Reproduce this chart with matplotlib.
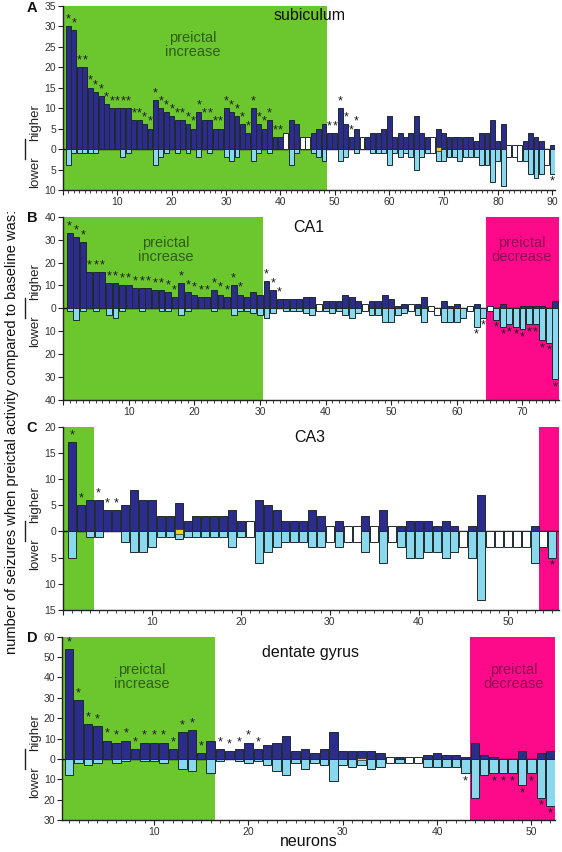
import numpy as np
import matplotlib
matplotlib.use("Agg")
import matplotlib.pyplot as plt
import matplotlib.ticker as ticker

plt.rcParams['font.family'] = ['Liberation Sans', 'DejaVu Sans']

# Colours
navy = '#2b2c8c'
light = '#8ad8ee'
edge = '#1e2a2c'
green = '#6cc72e'
magenta = '#fc0a8a'
yellow = '#f2d21a'

# ---- A: subiculum (90 neurons) ----
sub_hi = [30, 29, 20, 20, 15, 14, 13, 11, 10, 10, 10, 10, 7, 7, 6, 5, 12, 10, 9, 8,
          7, 7, 6, 5, 9, 7, 7, 5, 5, 10, 9, 8, 6, 4, 10, 6, 5, 7, 3, 3,
          0, 7, 6, 0, 0, 4, 5, 6, 4, 4, 10, 6, 3, 5, 0, 3, 4, 4, 5, 8,
          3, 4, 3, 4, 8, 4, 3, 0, 5, 4, 3, 3, 3, 3, 3, 2, 4, 4, 7, 2,
          6, 0, 0, 0, 2, 4, 3, 2, 0, 1]
sub_lo = [4, 1, 1, 1, 1, 1, 0, 0, 0, 0, 2, 1, 0, 0, 0, 0, 4, 2, 1, 0,
          1, 0, 1, 0, 2, 0, 1, 0, 0, 2, 3, 2, 0, 0, 3, 1, 0, 1, 0, 0,
          0, 4, 1, 0, 0, 1, 2, 3, 0, 0, 3, 2, 0, 1, 0, 0, 1, 1, 1, 4,
          1, 2, 1, 2, 5, 2, 1, 0, 3, 3, 2, 2, 3, 2, 2, 2, 4, 4, 8, 3,
          9, 0, 0, 0, 3, 6, 7, 6, 0, 6]
sub_same = {41: (4, 0), 44: (3, 0), 45: (3, 0), 55: (3, 0), 68: (3, -1),
            82: (1, -2), 83: (1, -2), 84: (1, -3), 89: (0, -4)}
sub_yellow = {69: (0.4, -0.4)}
sub_star_hi = list(range(1, 41)) + [49, 50, 51, 52, 53, 54]
sub_star_lo = [90]

# ---- B: CA1 (75 neurons) ----
ca1_hi = [33, 31, 29, 16, 16, 16, 11, 11, 10, 10, 9, 9, 9, 8, 8, 7, 5, 11, 7, 6,
          5, 5, 8, 6, 5, 10, 6, 5, 7, 6, 12, 8, 4, 4, 4, 4, 5, 5, 0, 3,
          3, 3, 6, 5, 3, 0, 3, 3, 6, 4, 1, 2, 0, 2, 5, 0, 0, 3, 1, 2,
          0, 0, 2, 0, 0, 0, 2, 0, 0, 1, 1, 1, 1, 0, 3]
ca1_lo = [1, 5, 1, 0, 1, 0, 3, 4, 1, 0, 0, 1, 0, 0, 1, 1, 0, 3, 1, 0,
          0, 0, 1, 0, 0, 3, 1, 1, 2, 3, 4, 2, 0, 1, 1, 1, 2, 3, 0, 1,
          2, 1, 3, 4, 2, 0, 3, 3, 6, 6, 3, 2, 0, 3, 6, 0, 0, 6, 6, 6,
          4, 0, 8, 4, 0, 5, 8, 7, 8, 9, 7, 7, 14, 15, 31]
ca1_same = {39: (2, -1), 46: (2, -1), 53: (2, -1), 56: (1, -1), 57: (0, -3),
            62: (1, -1), 65: (1, -1)}
ca1_yellow = {}
ca1_star_hi = list(range(1, 28)) + [31, 32, 33]
ca1_star_lo = [63, 64] + list(range(66, 76))

# ---- C: CA3 (55 neurons) ----
ca3_hi = [17, 5, 6, 6, 4, 4, 5, 8, 6, 6, 3, 3, 5.5, 2, 3, 3, 3, 3, 4, 2,
          0, 6, 5, 4, 2, 2, 2, 4, 3, 0, 2, 0, 0, 3, 0, 4, 0, 1, 2, 2,
          2, 1, 2, 1, 0, 1, 7, 0, 0, 0, 0, 0, 1, 0, 0]
ca3_lo = [5, 0, 1, 1, 0, 0, 2, 4, 4, 3, 1, 1, 1.5, 1, 1, 1, 1, 1, 3, 1,
          0, 6, 4, 3, 2, 2, 2, 3, 3, 0, 3, 0, 0, 4, 0, 6, 0, 3, 5, 5,
          4, 4, 5, 4, 0, 5, 13, 0, 0, 0, 0, 0, 6, 0, 5]
ca3_same = {21: (2, -1), 30: (1, -2), 32: (1, -2), 33: (1, -2), 35: (1, -2),
            37: (1, -2), 45: (0, -3), 48: (0, -3), 49: (0, -3), 50: (0, -3),
            51: (0, -3), 52: (0, -3), 54: (0, -3)}
ca3_yellow = {13: (0.5, -0.5)}
ca3_star_hi = [1, 2, 4, 5, 6]
ca3_star_lo = [55]

# ---- D: dentate gyrus (52 neurons) ----
dg_hi = [54, 29, 17, 16, 9, 8, 9, 5, 8, 8, 8, 5, 13, 14, 3, 9, 5, 4, 5, 8,
         5, 7, 8, 11, 4, 5, 3, 5, 13, 4, 4, 4, 4, 3, 0, 1, 0, 0, 2, 3,
         2, 2, 1, 8, 2, 1, 0, 0, 4, 0, 3, 4]
dg_lo = [8, 2, 3, 2, 0, 2, 1, 0, 1, 1, 2, 0, 5, 6, 0, 7, 1, 0, 1, 2,
         1, 3, 6, 8, 2, 5, 2, 3, 11, 3, 4, 3, 5, 4, 0, 2, 0, 0, 4, 4,
         4, 4, 7, 19, 8, 7, 7, 7, 13, 7, 19, 23]
dg_same = {35: (1, -2), 37: (1, -2), 38: (1, -2)}
dg_yellow = {32: (0.5, -0.5)}
dg_star_hi = list(range(1, 16)) + [17, 18, 19, 20, 21]
dg_star_lo = [43, 46, 47, 48, 49, 50, 51, 52]

W, H = 562, 852
fig = plt.figure(figsize=(W / 100, H / 100), dpi=100)


def px_axes(left, right, top, bottom):
    return fig.add_axes([left / W, 1 - bottom / H, (right - left) / W, (bottom - top) / H])


def draw_panel(ax, hi, lo, same, yel, star_hi, star_lo, ylim, ystep, xlim):
    n = len(hi)
    x = np.arange(1, n + 1)
    hi = np.array(hi, dtype=float)
    lo = np.array(lo, dtype=float)
    ax.bar(x, hi, width=0.9, color=navy, edgecolor=edge, linewidth=0.7, zorder=3)
    ax.bar(x, -lo, width=0.9, color=light, edgecolor=edge, linewidth=0.7, zorder=3)
    for k, (top, bot) in same.items():
        ax.bar(k, top - bot, bottom=bot, width=0.9, color='white',
               edgecolor=edge, linewidth=0.7, zorder=3)
    for k, (top, bot) in yel.items():
        ax.bar(k, top - bot, bottom=bot, width=0.9, color=yellow,
               edgecolor=edge, linewidth=0.5, zorder=4)
    ax.axhline(0, color='k', lw=1.0, zorder=2.5)
    for k in star_hi:
        ax.annotate('*', (k, hi[k - 1]), xytext=(0, 0.5), textcoords='offset points',
                    ha='center', va='bottom', fontsize=9, color='#1a1a1a', zorder=5)
    for k in star_lo:
        ax.annotate('*', (k, -lo[k - 1]), xytext=(0, -1.5), textcoords='offset points',
                    ha='center', va='top', fontsize=9, color='#1a1a1a', zorder=5)
    ax.set_xlim(*xlim)
    ax.set_ylim(*ylim)
    ax.yaxis.set_major_locator(ticker.MultipleLocator(ystep))
    ax.yaxis.set_major_formatter(ticker.FuncFormatter(lambda v, p: f"{abs(v):g}"))
    ax.xaxis.set_major_locator(ticker.MultipleLocator(10))
    ax.xaxis.set_minor_locator(ticker.MultipleLocator(1))
    ax.xaxis.set_major_formatter(ticker.FuncFormatter(lambda v, p: f"{v:g}" if v > 0 else ""))
    for s in ('top', 'right'):
        ax.spines[s].set_visible(False)
    for s in ('left', 'bottom'):
        ax.spines[s].set_color('#222222')
        ax.spines[s].set_linewidth(1.0)
    ax.tick_params(axis='both', which='major', labelsize=7.5, labelcolor='#333333',
                   length=3.5, width=0.8, color='#222222', pad=1.5)
    ax.tick_params(axis='x', which='minor', length=2.2, width=0.6, color='#222222')


def side_labels(ax, top, bottom, ylim):
    # "higher | lower" beside the zero line
    zero = bottom - (0 - ylim[0]) / (ylim[1] - ylim[0]) * (bottom - top)
    fig.text(35 / W, 1 - (zero - 8) / H, 'higher', rotation=90, ha='center', va='bottom',
             fontsize=9.5, color='#222222')
    fig.text(35 / W, 1 - (zero + 7) / H, 'lower', rotation=90, ha='center', va='top',
             fontsize=9.5, color='#222222')
    fig.add_artist(plt.Line2D([25 / W, 25 / W], [1 - (zero - 10) / H, 1 - (zero + 10) / H],
                              color='#222222', lw=1.0))


def px_text(x, y, s, **kw):
    fig.text(x / W, 1 - y / H, s, ha='center', va='center', **kw)


# Panel A
axA = px_axes(63, 555, 5.7, 190)
axA.axvspan(0, 48.5, color=green, zorder=0, lw=0)
draw_panel(axA, sub_hi, sub_lo, sub_same, sub_yellow, sub_star_hi, sub_star_lo,
           (-10, 35), 5, (0, 90.5))
side_labels(axA, 5.7, 190, (-10, 35))

# Panel B
axB = px_axes(63, 558.6, 216.7, 400)
axB.axvspan(0, 30.5, color=green, zorder=0, lw=0)
axB.axvspan(64.5, 75.5, color=magenta, zorder=0, lw=0)
draw_panel(axB, ca1_hi, ca1_lo, ca1_same, ca1_yellow, ca1_star_hi, ca1_star_lo,
           (-40, 40), 10, (0, 75.5))
side_labels(axB, 216.7, 400, (-40, 40))

# Panel C
axC = px_axes(63, 559, 426.7, 610)
axC.axvspan(0, 3.5, color=green, zorder=0, lw=0)
axC.axvspan(53.5, 55.75, color=magenta, zorder=0, lw=0)
draw_panel(axC, ca3_hi, ca3_lo, ca3_same, ca3_yellow, ca3_star_hi, ca3_star_lo,
           (-15, 20), 5, (0, 55.75))
side_labels(axC, 426.7, 610, (-15, 20))

# Panel D
axD = px_axes(62.3, 555, 636.7, 820)
axD.axvspan(0.28, 16.5, color=green, zorder=0, lw=0)
axD.axvspan(43.5, 52.5, color=magenta, zorder=0, lw=0)
draw_panel(axD, dg_hi, dg_lo, dg_same, dg_yellow, dg_star_hi, dg_star_lo,
           (-30, 60), 10, (0.28, 52.5))
side_labels(axD, 636.7, 820, (-30, 60))

# Panel letters
for letter, y in [('A', 8), ('B', 218), ('C', 428), ('D', 638)]:
    px_text(32, y, letter, fontsize=10.5, fontweight='bold', color='#111111')

# Region titles and shaded-area notes
inc_col = '#2e5e16'
dec_col = '#8c0d52'
px_text(310, 16, 'subiculum', fontsize=11.5, color='#111111')
px_text(193, 45, 'preictal\nincrease', fontsize=10.5, color=inc_col, linespacing=1.05)
px_text(309, 227, 'CA1', fontsize=11.5, color='#111111')
px_text(166, 250, 'preictal\nincrease', fontsize=10.5, color=inc_col, linespacing=1.05)
px_text(522, 250, 'preictal\ndecrease', fontsize=10.5, color=dec_col, linespacing=1.05)
px_text(310, 437, 'CA3', fontsize=11.5, color='#111111')
px_text(311, 652, 'dentate gyrus', fontsize=11.5, color='#111111')
px_text(142, 677, 'preictal\nincrease', fontsize=10.5, color=inc_col, linespacing=1.05)
px_text(514, 677, 'preictal\ndecrease', fontsize=10.5, color=dec_col, linespacing=1.05)

# Shared axis labels
px_text(309, 842, 'neurons', fontsize=11.5, color='#111111')
px_text(12, 432, 'number of seizures when preictal activity compared to baseline was:',
        rotation=90, fontsize=10.5, color='#111111')

fig.savefig('out.png', dpi=100)
